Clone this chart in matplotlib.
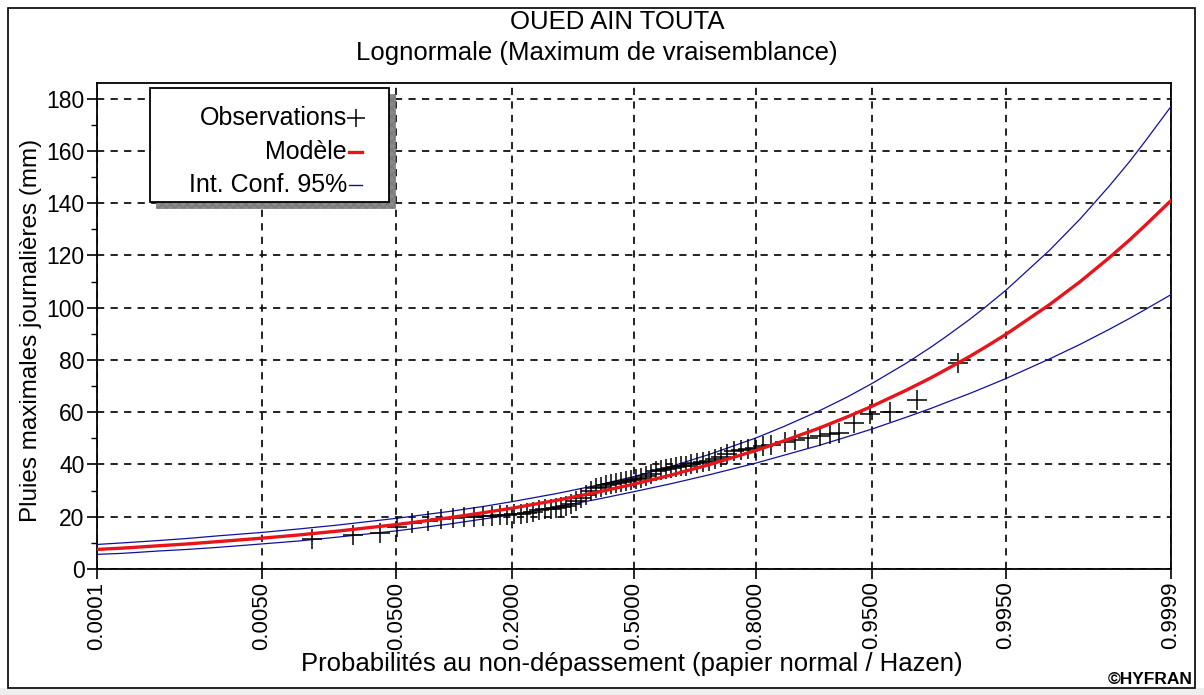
import math
import numpy as np
import matplotlib
matplotlib.use("Agg")
import matplotlib.pyplot as plt
from matplotlib.patches import Rectangle
from matplotlib.lines import Line2D
from matplotlib.ticker import FixedLocator, FixedFormatter, MultipleLocator

# ---------------- data ----------------
title_1 = "OUED AIN TOUTA"
title_2 = "Lognormale (Maximum de vraisemblance)"
x_label = "Probabilités au non-dépassement (papier normal / Hazen)"
y_label = "Pluies maximales journalières (mm)"

tick_probs = [0.0001, 0.005, 0.05, 0.2, 0.5, 0.8, 0.95, 0.995, 0.9999]
tick_labels = ["0.0001", "0.0050", "0.0500", "0.2000", "0.5000",
               "0.8000", "0.9500", "0.9950", "0.9999"]

# fitted model and 95% confidence interval
model_p = [0.0001, 0.0002, 0.0005, 0.001, 0.002, 0.005, 0.01, 0.02, 0.05,
           0.1, 0.15, 0.2, 0.3, 0.4, 0.5, 0.6, 0.7, 0.8, 0.85, 0.9, 0.93,
           0.95, 0.97, 0.98, 0.985, 0.99, 0.9925, 0.995, 0.998, 0.999,
           0.9995, 0.9997, 0.9998, 0.9999]
model_q = [7.5, 8.0, 8.9, 9.6, 10.5, 11.8, 13.0, 14.5, 17.0,
           19.6, 21.6, 23.3, 26.4, 29.4, 32.5, 35.9, 40.0, 45.3, 49.0, 53.9, 58.2,
           62.2, 68.3, 73.1, 76.6, 81.4, 84.9, 89.8, 101.2, 110.0,
           119.1, 125.9, 131.5, 141.0]
ci_low = [5.6, 6.0, 6.9, 7.5, 8.3, 9.6, 10.7, 12.2, 14.6,
          17.2, 19.2, 20.8, 23.9, 26.7, 29.6, 32.6, 36.1, 40.5, 43.5, 47.3, 50.6,
          53.5, 58.0, 61.4, 63.9, 67.2, 69.6, 72.9, 80.4, 86.0,
          91.7, 95.9, 99.3, 105.0]
ci_high = [9.4, 10.0, 10.9, 11.7, 12.7, 14.0, 15.3, 16.8, 19.4,
           22.0, 24.0, 25.8, 29.0, 32.1, 35.4, 39.2, 43.9, 50.1, 54.5, 60.5, 65.8,
           70.9, 78.6, 84.8, 89.3, 95.6, 100.2, 106.7, 122.0, 134.0,
           146.5, 155.9, 163.7, 177.0]

# observations (Hazen plotting positions, values in mm)
obs_p = [0.0128, 0.0257, 0.0391, 0.0502, 0.0625, 0.0767, 0.0904, 0.1047,
         0.1192, 0.1335, 0.1476, 0.1623, 0.1762, 0.1892, 0.2024, 0.2165,
         0.2287, 0.2417, 0.2546, 0.2683, 0.2823, 0.2939, 0.3061, 0.3185,
         0.3307, 0.3435, 0.3564, 0.3692, 0.3825, 0.3955, 0.4090, 0.4227,
         0.4360, 0.4499, 0.4637, 0.4773, 0.4912, 0.5048, 0.5187, 0.5327,
         0.5462, 0.5600, 0.5738, 0.5871, 0.6006, 0.6141, 0.6270, 0.6402,
         0.6528, 0.6682, 0.6830, 0.6978, 0.7123, 0.7261, 0.7399, 0.7552,
         0.7703, 0.7847, 0.7987, 0.8139, 0.8284, 0.8520, 0.8674, 0.8857,
         0.9009, 0.9125, 0.9221, 0.9361, 0.9489, 0.9618, 0.9749, 0.9876]
obs_v = [11.5, 13.0, 13.6, 16.0, 17.5, 18.5, 19.0, 19.5,
         20.0, 20.0, 20.2, 20.4, 20.6, 20.8, 21.0, 21.2,
         21.6, 22.0, 22.4, 22.8, 23.0, 23.3, 23.7, 24.2,
         25.0, 26.0, 27.0, 28.5, 30.0, 31.0, 31.5, 32.0,
         32.5, 33.0, 33.3, 33.6, 34.0, 34.5, 35.0, 35.5,
         36.5, 37.5, 38.0, 38.3, 38.6, 39.0, 39.3, 39.6,
         40.0, 40.5, 41.0, 41.5, 42.0, 43.0, 44.0, 45.0,
         45.5, 46.0, 46.5, 47.0, 47.5, 48.7, 49.3, 50.0,
         50.9, 51.6, 52.1, 55.9, 59.5, 60.2, 64.6, 78.7]

legend_labels = ["Observations", "Modèle", "Int. Conf. 95%"]

# ---------------- normal probability scale ----------------
_a = [-3.969683028665376e+01, 2.209460984245205e+02, -2.759285104469687e+02,
      1.383577518672690e+02, -3.066479806614716e+01, 2.506628277459239e+00]
_b = [-5.447609879822406e+01, 1.615858368580409e+02, -1.556989798598866e+02,
      6.680131188771972e+01, -1.328068155288572e+01]
_c = [-7.784894002430293e-03, -3.223964580411365e-01, -2.400758277161838e+00,
      -2.549671348441025e+00, 4.374664141464968e+00, 2.938163982698783e+00]
_d = [7.784695709041462e-03, 3.224671290700398e-01, 2.445134137142996e+00,
      3.754408661907416e+00]


def _ppf_scalar(p):
    p = min(max(p, 1e-12), 1 - 1e-12)
    plow = 0.02425
    if p < plow:
        q = math.sqrt(-2 * math.log(p))
        return (((((_c[0]*q+_c[1])*q+_c[2])*q+_c[3])*q+_c[4])*q+_c[5]) / \
               ((((_d[0]*q+_d[1])*q+_d[2])*q+_d[3])*q+1)
    if p > 1 - plow:
        q = math.sqrt(-2 * math.log(1 - p))
        return -(((((_c[0]*q+_c[1])*q+_c[2])*q+_c[3])*q+_c[4])*q+_c[5]) / \
                ((((_d[0]*q+_d[1])*q+_d[2])*q+_d[3])*q+1)
    q = p - 0.5
    r = q * q
    return (((((_a[0]*r+_a[1])*r+_a[2])*r+_a[3])*r+_a[4])*r+_a[5])*q / \
           (((((_b[0]*r+_b[1])*r+_b[2])*r+_b[3])*r+_b[4])*r+1)


def fwd(p):
    p = np.asarray(p, dtype=float)
    return np.vectorize(_ppf_scalar, otypes=[float])(p) if p.size else p


def inv(z):
    z = np.asarray(z, dtype=float)
    return np.vectorize(lambda v: 0.5 * (1 + math.erf(v / math.sqrt(2))),
                        otypes=[float])(z) if z.size else z


# ---------------- figure ----------------
plt.rcParams["font.family"] = ["Liberation Sans", "DejaVu Sans"]
W, H = 1204, 695
fig = plt.figure(figsize=(W / 100, H / 100), dpi=100)
fig.patch.set_facecolor("white")

# outer frame + grey strip
fig.add_artist(Rectangle((0, 0), 1, 7 / H, transform=fig.transFigure,
                         facecolor="#eeeeee", edgecolor="none", zorder=0))
fig.add_artist(Rectangle((8 / W, 7 / H), (1195 - 8) / W, (688 - 8) / H,
                         transform=fig.transFigure, facecolor="none",
                         edgecolor="black", lw=1.2, zorder=1))

left, right, top, bottom = 97, 1171, 83, 569
ax = fig.add_axes([left / W, 1 - bottom / H, (right - left) / W, (bottom - top) / H])
ax.set_xscale("function", functions=(fwd, inv))
ax.set_xlim(0.0001, 0.9999)
ax.set_ylim(0, 186)

ax.xaxis.set_major_locator(FixedLocator(tick_probs))
ax.xaxis.set_major_formatter(FixedFormatter(tick_labels))
ax.xaxis.set_minor_locator(FixedLocator([]))
ax.yaxis.set_major_locator(MultipleLocator(20))
ax.yaxis.set_minor_locator(MultipleLocator(10))

ax.tick_params(axis="x", which="major", direction="out", length=7, width=1.2,
               labelsize=16, pad=2, labelrotation=90)
ax.tick_params(axis="y", which="major", direction="out", length=7, width=1.2,
               labelsize=16.5, pad=2)
ax.tick_params(axis="y", which="minor", direction="out", length=4, width=1.0)
for s in ax.spines.values():
    s.set_linewidth(1.3)

ax.grid(True, which="major", color="#111111", linestyle=(0, (4, 3.5)), lw=1.3)
ax.set_axisbelow(True)

ax.plot(model_p, ci_high, color="#1010a0", lw=0.9, zorder=3)
ax.plot(model_p, ci_low, color="#1010a0", lw=0.9, zorder=3)
ax.plot(obs_p, obs_v, linestyle="none", marker="+", markersize=14,
        markeredgewidth=1.1, color="black", zorder=4)
ax.plot(model_p, model_q, color="#e8141a", lw=2.4, zorder=5)

# axis labels
fig.text(632 / W, 1 - 664 / H, x_label, ha="center", va="center", fontsize=18.5)
fig.text(31 / W, 1 - 330 / H, y_label, ha="center", va="center",
         fontsize=17.5, rotation=90)

# titles
fig.text(617 / W, 1 - 22 / H, title_1, ha="center", va="center", fontsize=18.5)
fig.text(597 / W, 1 - 53 / H, title_2, ha="center", va="center", fontsize=18.5)
fig.text(1193 / W, 1 - 680 / H, "©HYFRAN", ha="right", va="center",
         fontsize=12.5, fontweight="bold")

# legend box with hatched shadow
lx0, lx1, ly0, ly1 = 150, 389, 88, 202
sh = 6
fig.add_artist(Rectangle(((lx0 + sh) / W, 1 - (ly1 + sh) / H),
                         (lx1 - lx0) / W, (ly1 - ly0) / H,
                         transform=fig.transFigure, facecolor="#8a8a8a",
                         edgecolor="#7a7a7a", hatch="xxxx", lw=0.5, zorder=10))
fig.add_artist(Rectangle((lx0 / W, 1 - ly1 / H), (lx1 - lx0) / W, (ly1 - ly0) / H,
                         transform=fig.transFigure, facecolor="white",
                         edgecolor="black", lw=1.3, zorder=11))
rows_y = [118, 152, 185]
text_right = 347
for lab, yy in zip(legend_labels, rows_y):
    fig.text(text_right / W, 1 - yy / H, lab, ha="right", va="center",
             fontsize=18, zorder=12)
fig.add_artist(Line2D([356 / W], [1 - 118 / H], transform=fig.transFigure,
                      marker="+", markersize=13, markeredgewidth=1.1,
                      color="black", zorder=12))
fig.add_artist(Line2D([349 / W, 362 / W], [1 - 152 / H] * 2,
                      transform=fig.transFigure, color="#e8141a", lw=2.4,
                      zorder=12))
fig.add_artist(Line2D([349 / W, 362 / W], [1 - 185 / H] * 2,
                      transform=fig.transFigure, color="#1010a0", lw=1.0,
                      zorder=12))

fig.savefig("out.png", dpi=100, facecolor="white")
